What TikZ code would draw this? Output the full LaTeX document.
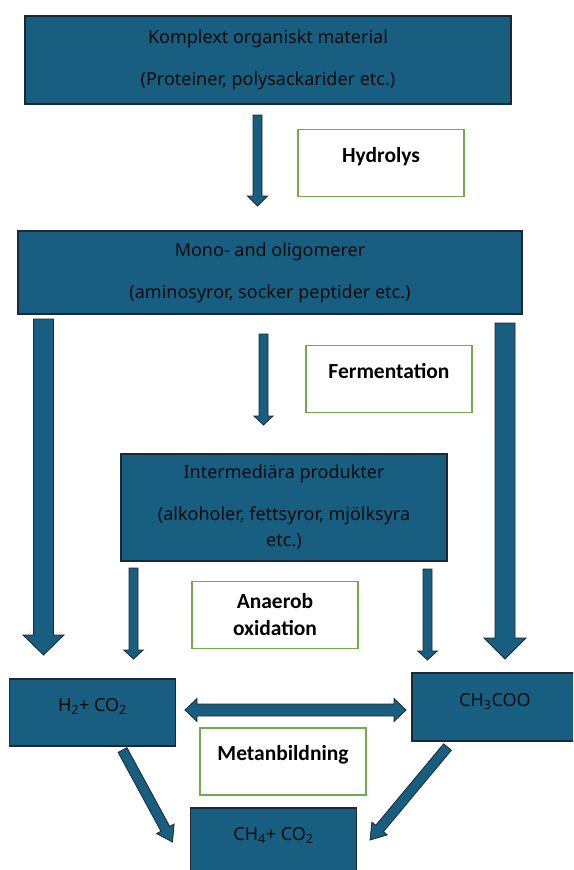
\documentclass[tikz,border=0pt]{standalone}
\usepackage{fontspec}
\setmainfont{Noto Sans}
\newfontfamily\labfont{Carlito}
\usetikzlibrary{calc}

\definecolor{petrol}{RGB}{24,94,128}
\definecolor{edge}{RGB}{30,40,48}
\definecolor{leaf}{RGB}{112,173,71}
\definecolor{ink}{RGB}{12,12,12}

\tikzset{
  stage/.style={draw=edge, line width=1.2pt, fill=petrol, text=ink, align=center,
    inner sep=0pt, font=\fontsize{18}{21}\selectfont},
  labbox/.style={draw=leaf, line width=1.6pt, fill=white, minimum width=166pt,
    minimum height=67pt, align=center, inner sep=0pt,
    font=\labfont\bfseries\fontsize{21.5}{27}\selectfont},
  oneline/.style={text height=9pt, text depth=11pt},
  fatarrow/.style={draw=edge, line width=0.8pt, fill=petrol, line join=miter},
}

% block arrow: from, to, half shaft, half head, head length
\newcommand{\blockarrow}[5]{%
  \coordinate (hb) at ($(#2)!#5!(#1)$);
  \filldraw[fatarrow] ($(#1)!#3!90:(#2)$) -- ($(hb)!#3!90:(#2)$) -- ($(hb)!#4!90:(#2)$)
    -- (#2) -- ($(hb)!#4!-90:(#2)$) -- ($(hb)!#3!-90:(#2)$) -- ($(#1)!#3!-90:(#2)$) -- cycle;
}
% same with a head at both ends
\newcommand{\twowayarrow}[5]{%
  \coordinate (ha) at ($(#1)!#5!(#2)$);
  \coordinate (hb) at ($(#2)!#5!(#1)$);
  \filldraw[fatarrow] (#1) -- ($(ha)!#4!90:(#2)$) -- ($(ha)!#3!90:(#2)$) -- ($(hb)!#3!90:(#2)$)
    -- ($(hb)!#4!90:(#2)$) -- (#2) -- ($(hb)!#4!-90:(#2)$) -- ($(hb)!#3!-90:(#2)$)
    -- ($(ha)!#3!-90:(#2)$) -- ($(ha)!#4!-90:(#2)$) -- cycle;
}

\begin{document}
\begin{tikzpicture}[x=1pt, y=-1pt]
  \useasboundingbox (0,0) rectangle (573,870);
  \clip (0,0) rectangle (573,870);

  % stages
  \node[stage, minimum width=486pt, minimum height=88pt] (kom) at (268,60)
    {Komplext organiskt material\\[21pt](Proteiner, polysackarider etc.)};
  \node[stage, minimum width=504pt, minimum height=83pt] (mono) at (270,272.5)
    {Mono- and oligomerer\\[21pt](aminosyror, socker peptider etc.)};
  \node[stage, minimum width=326pt, minimum height=107pt] (inter) at (284,507.5)
    {Intermediära produkter\\[21pt](alkoholer, fettsyror, mjölksyra\\[5pt]etc.)};
  \node[stage, oneline, minimum width=166pt, minimum height=67pt] (h2) at (92.5,712.5)
    {H\textsubscript{2}+ CO\textsubscript{2}};
  \node[stage, oneline, minimum width=166pt, minimum height=68pt] (ch3) at (495,707)
    {CH\textsubscript{3}COO};
  \node[stage, oneline, minimum width=166pt, minimum height=67pt] (ch4) at (273.5,841.5)
    {CH\textsubscript{4}+ CO\textsubscript{2}};

  % process labels
  \node[labbox, oneline] (hyd) at (381,163) {Hydrolys};
  \node[labbox, oneline] (fer) at (389,379) {Fermentation};
  \node[labbox] (ana) at (275,615) {Anaerob\\oxidation};
  \node[labbox, oneline] (met) at (283,761.5) {Metanbildning};

  % arrow ends
  \coordinate (hyd-a) at (257.5,115);  \coordinate (hyd-b) at (257.5,206);
  \coordinate (fer-a) at (263.5,334);  \coordinate (fer-b) at (263.5,425);
  \coordinate (lft-a) at (43.5,319);   \coordinate (lft-b) at (43.5,655);
  \coordinate (rgt-a) at (505,323);    \coordinate (rgt-b) at (505,659);
  \coordinate (oxl-a) at (133.5,568);  \coordinate (oxl-b) at (133.5,659);
  \coordinate (oxr-a) at (427.5,569);  \coordinate (oxr-b) at (427.5,660);
  \coordinate (mid-a) at (185,710);    \coordinate (mid-b) at (406,710);
  \coordinate (dgl-a) at (122.5,750);  \coordinate (dgl-b) at (172.5,842);
  \coordinate (dgr-a) at (447.5,747);  \coordinate (dgr-b) at (370,840);

  \blockarrow{hyd-a}{hyd-b}{4.5pt}{10pt}{10pt}
  \blockarrow{fer-a}{fer-b}{4.5pt}{9.5pt}{9pt}
  \blockarrow{lft-a}{lft-b}{10pt}{20.5pt}{20pt}
  \blockarrow{rgt-a}{rgt-b}{10pt}{21pt}{21pt}
  \blockarrow{oxl-a}{oxl-b}{4.5pt}{9.75pt}{9pt}
  \blockarrow{oxr-a}{oxr-b}{4.5pt}{9.75pt}{9pt}
  \twowayarrow{mid-a}{mid-b}{6pt}{11.5pt}{12pt}
  \blockarrow{dgl-a}{dgl-b}{5pt}{10pt}{15pt}
  \blockarrow{dgr-a}{dgr-b}{5pt}{10pt}{15pt}
\end{tikzpicture}
\end{document}
